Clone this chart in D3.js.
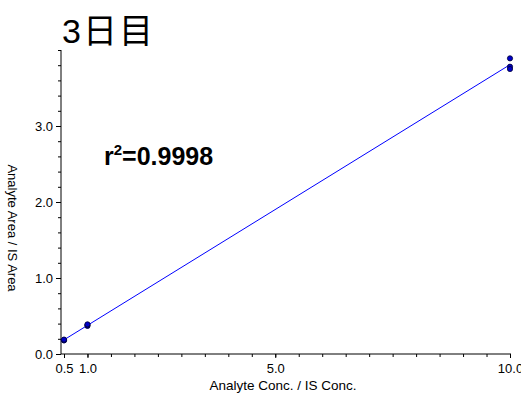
<!DOCTYPE html>
<html>
<head>
<meta charset="utf-8">
<script src="https://cdn.jsdelivr.net/npm/d3@7"></script>
<style>
  html, body { margin: 0; padding: 0; background: #fff; }
  svg { display: block; }
  text { font-family: "Liberation Sans", Arial, sans-serif; fill: #000; }
</style>
</head>
<body>
<svg id="chart" width="521" height="393"></svg>
<script>
// Calibration data: analyte/IS concentration ratio vs. area ratio
const concRatio = [0.5, 0.5, 0.5, 1.0, 1.0, 1.0, 10.0, 10.0, 10.0];
const areaRatio = [0.18, 0.18, 0.19, 0.37, 0.38, 0.39, 3.89, 3.78, 3.75];
const xTickValues = [0.5, 1.0, 5.0, 10.0];
const yTickValues = [0.0, 1.0, 2.0, 3.0];
const titleText = "3日目";
const r2Text = "0.9998";

const svg = d3.select("#chart");

const x = d3.scaleLinear().domain([0.5, 10.0]).range([64, 510]);
const y = d3.scaleLinear().domain([0, 4.0]).range([354, 50]);

// Least-squares calibration line
const n = concRatio.length;
const mx = d3.mean(concRatio), my = d3.mean(areaRatio);
let sxy = 0, sxx = 0;
for (let i = 0; i < n; i++) {
  sxy += (concRatio[i] - mx) * (areaRatio[i] - my);
  sxx += (concRatio[i] - mx) ** 2;
}
const slope = sxy / sxx;
const intercept = my - slope * mx;

// Title
svg.append("text")
  .attr("x", 62).attr("y", 43)
  .style("font-family", "'Liberation Sans', 'Noto Sans CJK JP', sans-serif")
  .style("font-size", "34px")
  .style("letter-spacing", "2px")
  .text(titleText);

// Y axis
const yAxis = d3.axisLeft(y)
  .tickValues(yTickValues)
  .tickSize(5)
  .tickFormat(d3.format(".1f"));
const gy = svg.append("g").attr("transform", "translate(61,0)").call(yAxis);
gy.select(".domain").attr("d", `M0,${y.range()[0]}V${y.range()[1]}`);
gy.selectAll("text").style("font-size", "13px").attr("x", -8);
gy.selectAll("line, path").attr("stroke", "#000");
// Y minor ticks
gy.selectAll(".minor")
  .data(d3.range(0, 21).map(i => i * 0.2))
  .enter().append("line")
  .attr("class", "minor")
  .attr("x1", -3).attr("x2", 0)
  .attr("y1", d => y(d) + 0.5).attr("y2", d => y(d) + 0.5)
  .attr("stroke", "#000");

// X axis
const xAxis = d3.axisBottom(x)
  .tickValues(xTickValues)
  .tickSize(4)
  .tickFormat(d3.format(".1f"));
const gx = svg.append("g").attr("transform", "translate(0,354)").call(xAxis);
gx.select(".domain").attr("d", `M61,0H511`);
gx.selectAll("text").style("font-size", "13px").attr("y", 10);
gx.selectAll("line, path").attr("stroke", "#000");
gx.selectAll(".minor")
  .data(d3.range(1, 21).map(i => i * 0.5))
  .enter().append("line")
  .attr("class", "minor")
  .attr("y1", 0).attr("y2", 3)
  .attr("x1", d => x(d) + 0.5).attr("x2", d => x(d) + 0.5)
  .attr("stroke", "#000");

// Axis titles
svg.append("text")
  .attr("x", 283).attr("y", 390)
  .attr("text-anchor", "middle")
  .style("font-size", "13.5px")
  .text("Analyte Conc. / IS Conc.");
svg.append("text")
  .attr("transform", "translate(8,228) rotate(90)")
  .attr("text-anchor", "middle")
  .style("font-size", "13px")
  .text("Analyte Area / IS Area");

// Fit line
svg.append("line")
  .attr("x1", x(0.5)).attr("y1", y(slope * 0.5 + intercept))
  .attr("x2", x(10.0)).attr("y2", y(slope * 10.0 + intercept))
  .attr("stroke", "#0000ff").attr("stroke-width", 1);

// Points
svg.selectAll(".pt")
  .data(concRatio.map((c, i) => [c, areaRatio[i]]))
  .enter().append("circle")
  .attr("class", "pt")
  .attr("cx", d => x(d[0]))
  .attr("cy", d => y(d[1]))
  .attr("r", 2.6)
  .attr("fill", "#0000c8")
  .attr("stroke", "#000033")
  .attr("stroke-width", 0.8);

// r² annotation
const r2 = svg.append("text")
  .attr("x", 104).attr("y", 165)
  .style("font-size", "25px")
  .style("font-weight", "bold");
r2.append("tspan").text("r");
r2.append("tspan").attr("dy", -10).style("font-size", "15px").text("2");
r2.append("tspan").attr("dy", 10).text("=" + r2Text);
</script>
</body>
</html>
